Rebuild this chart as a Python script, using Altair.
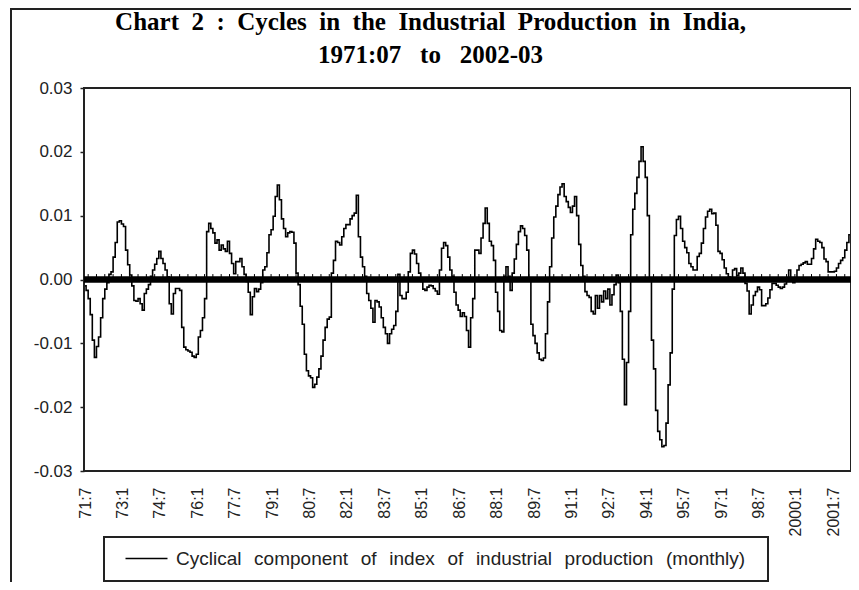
import altair as alt
import pandas as pd

# ---- data: cyclical component of IIP, monthly 1971:07 .. 2002:03 (values x 1000) ----
tick_labels = ["71:7", "73:1", "74:7", "76:1", "77:7", "79:1", "80:7", "82:1", "83:7",
               "85:1", "86:7", "88:1", "89:7", "91:1", "92:7", "94:1", "95:7", "97:1",
               "98:7", "2000:1", "2001:7"]

c_71_7 = [-1.0, -1.7, -3.0, -5.5, -9.5, -12.2, -10.5, -9.0, -6.0, -3.0, -1.5, -0.5, 0.8, 1.2, 3.5, 5.8, 9.0, 9.2]
c_73_1 = [8.7, 8.3, 4.6, 2.3, 0.7, -1.0, -3.3, -3.4, -3.0, -3.8, -4.8, -2.2, -1.5, -0.8, 0.5, 1.5, 2.4, 3.3]
c_74_7 = [4.4, 3.3, 2.5, 1.5, 0.4, -3.8, -5.4, -2.2, -1.4, -1.4, -1.7, -7.5, -10.6, -11.0, -11.2, -11.4, -12.0, -12.2]
c_76_1 = [-11.7, -9.0, -8.0, -6.0, -3.0, 7.5, 8.8, 8.0, 7.3, 5.7, 6.2, 4.6, 5.4, 4.8, 4.4, 6.0, 4.1, 2.5]
c_77_7 = [0.9, 2.8, 2.8, 3.3, 2.0, 0.8, -0.3, -2.0, -5.5, -2.7, -1.4, -1.9, -1.5, -0.5, 1.5, 2.0, 4.2, 7.0]
c_79_1 = [7.8, 9.9, 13.0, 14.8, 12.5, 9.5, 8.0, 6.7, 7.3, 7.5, 7.4, 5.7, 1.0, -0.8, -4.2, -7.0, -11.7, -14.3]
c_80_7 = [-15.1, -15.4, -16.9, -16.4, -15.3, -14.0, -12.0, -9.5, -7.5, -6.2, -5.9, 1.0, 3.0, 6.0, 5.8, 5.4, 6.7, 8.0]
c_82_1 = [8.6, 8.6, 9.5, 10.0, 10.4, 13.2, 6.7, 3.5, 2.0, 0.5, -2.2, -3.3, -4.5, -6.7, -3.3, -3.5, -4.3, -6.0]
c_83_7 = [-7.5, -8.5, -10.0, -8.5, -7.8, -7.2, -5.0, 0.8, -2.5, -3.0, -3.0, -2.0, 1.2, 4.1, 4.6, 4.0, 2.5, 1.0]
c_85_1 = [-0.3, -1.5, -1.7, -1.2, -0.9, -1.0, -1.4, -1.8, -2.3, 1.5, 4.9, 5.8, 5.3, 3.5, 1.5, 0.5, -2.0, -4.0]
c_86_7 = [-4.8, -5.8, -5.2, -5.8, -8.0, -10.6, -6.0, -3.0, 4.6, 4.6, 4.1, 6.5, 8.8, 11.2, 8.8, 6.0, 5.3, 3.0]
c_88_1 = [-2.0, -5.0, -8.0, -8.2, 0.5, 2.0, 0.5, -1.7, 1.0, 3.2, 5.5, 7.5, 8.4, 8.0, 6.9, 4.6, 0.0, -7.0]
c_89_7 = [-8.8, -10.0, -11.5, -12.5, -12.7, -12.3, -8.5, -3.5, 2.0, 6.5, 9.8, 11.5, 13.3, 14.5, 15.0, 13.0, 12.2, 11.3]
c_91_1 = [10.5, 11.5, 13.0, 10.0, 5.5, 2.2, 0.5, -1.9, -2.5, -2.8, -5.0, -5.4, -2.5, -4.5, -2.5, -3.5, -1.8, -3.0]
c_92_7 = [-1.5, -4.0, -2.4, -0.8, 0.7, -0.5, -5.0, -12.5, -19.6, -13.0, -5.0, 7.0, 11.0, 13.5, 16.0, 18.5, 20.8, 18.5]
c_94_1 = [16.0, 10.0, 0.0, -9.5, -14.0, -20.5, -23.8, -25.1, -26.2, -26.0, -22.5, -16.5, -11.5, -1.5, 6.9, 9.4, 9.9, 8.0]
c_95_7 = [6.0, 5.0, 4.2, 2.5, 2.0, 1.5, 1.5, 3.6, 4.1, 5.7, 8.0, 9.8, 10.7, 11.0, 10.3, 10.4, 8.5, 4.4]
c_97_1 = [4.1, 3.1, 1.8, 0.9, 0.4, -0.1, 1.5, 1.7, 0.6, 1.0, 1.8, 1.0, -0.6, -1.8, -5.4, -4.0, -2.5, -1.9]
c_98_7 = [-1.2, -1.6, -4.1, -4.1, -3.8, -2.9, -1.6, -0.6, -0.6, -0.9, -1.2, -1.4, -1.2, -0.7, 0.1, 1.5, -0.1, -0.5]
c_2000_1 = [-0.2, 1.5, 2.2, 2.4, 2.6, 2.8, 2.4, 2.4, 3.3, 4.8, 6.3, 6.0, 5.8, 5.0, 3.2, 2.8, 1.2, 1.2]
c_2001_7 = [1.2, 1.3, 1.8, 2.5, 3.0, 3.4, 4.6, 5.8, 7.0]

cycle_x1000 = (c_71_7 + c_73_1 + c_74_7 + c_76_1 + c_77_7 + c_79_1 + c_80_7 + c_82_1 + c_83_7
               + c_85_1 + c_86_7 + c_88_1 + c_89_7 + c_91_1 + c_92_7 + c_94_1 + c_95_7 + c_97_1
               + c_98_7 + c_2000_1 + c_2001_7)

GAP = "\u2002\u2006"
series_words = ["Cyclical", "component", "of", "index", "of", "industrial", "production", "(monthly)"]
series_name = GAP.join(series_words) + "\u00a0\u00a0\u200b"

title_line1 = "\u00a0\u00a0".join(["Chart", "2", ":", "Cycles", "in", "the", "Industrial",
                                   "Production", "in", "India,"])
title_line2 = "\u00a0\u00a0\u00a0".join(["1971:07", "to", "2002-03"])

n = len(cycle_x1000)
df = pd.DataFrame({
    "t": list(range(n)),
    "value": [v / 1000.0 for v in cycle_x1000],
    "series": [series_name] * n,
})
tick_df = pd.DataFrame({"t": [1.5 + 4 * k for k in range(n // 4 + 1) if 1.5 + 4 * k < n]})
one_row = pd.DataFrame({"a": [0]})

SANS = "Liberation Sans"
label_vals = list(range(0, 361, 18))
label_expr = "[" + ",".join("'%s'" % s for s in tick_labels) + "][round(datum.value / 18)]"

x_scale = alt.Scale(domain=[-0.5, n - 0.5], nice=False, zero=False)
y_scale = alt.Scale(domain=[-0.03, 0.03], nice=False, zero=False)

x_axis = alt.Axis(values=label_vals, labelExpr=label_expr, labelAngle=270, tickSize=0,
                  labelPadding=16, domain=False, grid=False, title=None, labelFont=SANS,
                  labelFontSize=16, labelColor="#222", labelOverlap=False, labelBound=False,
                  labelFlush=False)
y_axis = alt.Axis(values=[-0.03, -0.02, -0.01, 0, 0.01, 0.02, 0.03],
                  labelExpr="datum.value < 0 ? '-' + format(-datum.value, '.2f') : format(datum.value, '.2f')",
                  tickSize=4, tickWidth=1.5, tickColor="#222", labelPadding=8, domain=False,
                  grid=False, title=None, labelFont=SANS, labelFontSize=17, labelColor="#222",
                  labelOverlap=False)

# legend symbol: a 42px horizontal stroke starting at the symbol centre
line_symbol = "M0,0H4.94"

line = alt.Chart(df).mark_line(interpolate="step", strokeWidth=1.6).encode(
    x=alt.X("t:Q", scale=x_scale, axis=x_axis),
    y=alt.Y("value:Q", scale=y_scale, axis=y_axis),
    color=alt.Color("series:N",
                    scale=alt.Scale(domain=[series_name], range=["black"]),
                    legend=alt.Legend(title=None, orient="none", legendX=20, legendY=449,
                                      direction="horizontal", symbolType=line_symbol,
                                      symbolSize=289, symbolStrokeWidth=1.5,
                                      symbolStrokeColor="black", symbolFillColor="transparent",
                                      labelFont=SANS, labelFontSize=19, labelColor="#222",
                                      labelLimit=0, labelOffset=41,
                                      strokeColor="#222", padding=12)),
)

zero_band = alt.Chart(one_row).mark_rule(color="black", strokeWidth=6.5).encode(
    y=alt.datum(0.0, scale=y_scale, axis=y_axis)
)

zero_ticks = alt.Chart(tick_df).mark_rule(color="black", strokeWidth=1).encode(
    x=alt.X("t:Q", scale=x_scale, axis=x_axis),
    y=alt.datum(0.0, scale=y_scale, axis=y_axis),
    y2=alt.datum(0.00085),
)

frame = alt.Chart(one_row).mark_rect(fillOpacity=0, stroke="#222", strokeWidth=2).encode(
    x=alt.value(-73), x2=alt.value(900), y=alt.value(-79), y2=alt.value(700)
)

chart = alt.layer(line, zero_band, zero_ticks, frame).properties(
    width=767,
    height=383,
    autosize=alt.AutoSizeParams(type="none"),
    padding={"left": 76, "top": 80, "right": 0, "bottom": 111},
    title=alt.TitleParams(text=[title_line1, title_line2], font="Liberation Serif",
                          fontSize=25, fontWeight="bold", color="black", anchor="middle",
                          frame="group", dx=-37, dy=85, offset=0, lineHeight=33,
                          baseline="bottom"),
).configure_view(stroke="#222", strokeWidth=2).configure_legend(strokeWidth=2)

chart.save("out.html", embed_options={"renderer": "svg", "actions": False})
